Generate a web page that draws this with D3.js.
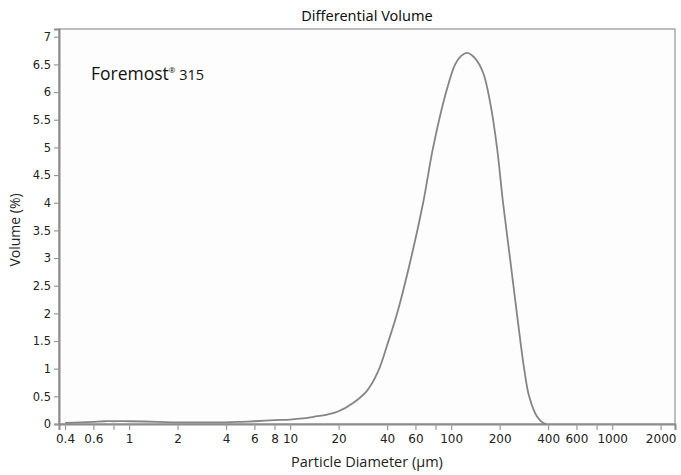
<!DOCTYPE html>
<html><head><meta charset="utf-8">
<script src="https://cdn.jsdelivr.net/npm/d3@7"></script>
<style>body{margin:0;background:#fff}svg{display:block}</style>
</head><body>
<svg id="c" width="681" height="475"></svg>
<script>
const diameters = [0.4,0.5,0.6,0.7,0.8,1,1.5,2,3,4,5,6,8,10,12,14,17,20,24.6,30,35.2,40,46.2,56.4,67,77.3,93.1,105.9,115,125.7,140,158,175,193,210,232,256,284,305,342,373,390];
const volumes   = [0.02,0.03,0.04,0.05,0.05,0.05,0.04,0.03,0.03,0.03,0.04,0.05,0.07,0.08,0.1,0.13,0.17,0.23,0.38,0.6,0.95,1.42,2.0,3.0,4.0,5.0,6.0,6.5,6.65,6.71,6.62,6.35,5.8,4.98,4.0,3.0,2.0,1.0,0.5,0.13,0.02,0];
const xTicks = [0.4,0.6,0.8,1,2,4,6,8,10,20,40,60,80,100,200,400,600,800,1000,2000];
const xTickLabels = ["0.4","0.6","","1","2","4","6","8","10","20","40","60","","100","200","400","600","","1000","2000"];
const yTicks = [0,0.5,1,1.5,2,2.5,3,3.5,4,4.5,5,5.5,6,6.5,7];
const yTickLabels = ["0","0.5","1","1.5","2","2.5","3","3.5","4","4.5","5","5.5","6","6.5","7"];
const title = "Differential Volume";
const xTitle = "Particle Diameter (µm)";
const yTitle = "Volume (%)";

const svg = d3.select("#c");
const L = 59, R = 675, T = 29, B = 424;
const x = d3.scaleLog().domain([0.367, 2456]).range([L, R]);
const y = d3.scaleLinear().domain([0, 7.14]).range([B, T]);
const font = "'Open Sans', 'Noto Sans', sans-serif";
const tickFont = "'DejaVu Sans', sans-serif";

svg.append("rect").attr("x", L).attr("y", T).attr("width", R - L).attr("height", B - T)
  .attr("fill", "#fdfdfd").attr("stroke", "#a8a8a8").attr("stroke-width", 1.5);

// y axis
const ya = svg.append("g").attr("transform", `translate(${L},0)`)
  .call(d3.axisLeft(y).tickValues(yTicks).tickFormat((d, i) => yTickLabels[i]).tickSize(5).tickPadding(3));
ya.select(".domain").attr("stroke", "#8c8c8c").attr("stroke-width", 2);
ya.selectAll(".tick line").attr("stroke", "#999").attr("stroke-width", 1.2);
ya.selectAll("text").attr("font-family", tickFont).attr("font-size", 11.5).attr("fill", "#222");

// x axis
const xa = svg.append("g").attr("transform", `translate(0,${B})`)
  .call(d3.axisBottom(x).tickValues(xTicks).tickFormat((d, i) => xTickLabels[i]).tickSize(6).tickPadding(4));
xa.select(".domain").attr("stroke", "#8c8c8c").attr("stroke-width", 2);
xa.selectAll(".tick line").attr("stroke", "#999").attr("stroke-width", 1.2);
xa.selectAll("text").attr("font-family", tickFont).attr("font-size", 12).attr("fill", "#222");

// curve
const pts = diameters.map((d, i) => [d, volumes[i]]);
svg.append("path").datum(pts)
  .attr("fill", "none").attr("stroke", "#858585").attr("stroke-width", 1.8)
  .attr("d", d3.line().x(d => x(d[0])).y(d => y(Math.max(0, d[1]))).curve(d3.curveCatmullRom.alpha(0.5)));

// titles
svg.append("text").attr("x", 367).attr("y", 21).attr("text-anchor", "middle")
  .attr("font-family", "'Noto Sans', sans-serif").attr("font-size", 14.5).attr("fill", "#111").text(title);
svg.append("text").attr("x", 367).attr("y", 467).attr("text-anchor", "middle")
  .attr("font-family", font).attr("font-size", 14.5).attr("fill", "#222").text(xTitle);
svg.append("text").attr("transform", "translate(20,230) rotate(-90)").attr("text-anchor", "middle")
  .attr("font-family", font).attr("font-size", 14).attr("fill", "#222").text(yTitle);

const lab = svg.append("text").attr("x", 91).attr("y", 80).attr("font-family", font).attr("fill", "#111");
lab.append("tspan").attr("font-size", 17.5).text("Foremost");
lab.append("tspan").attr("font-size", 8).attr("dy", -7).text("®");
lab.append("tspan").attr("font-size", 14.5).attr("dy", 7).text(" 315");
</script>
</body></html>
